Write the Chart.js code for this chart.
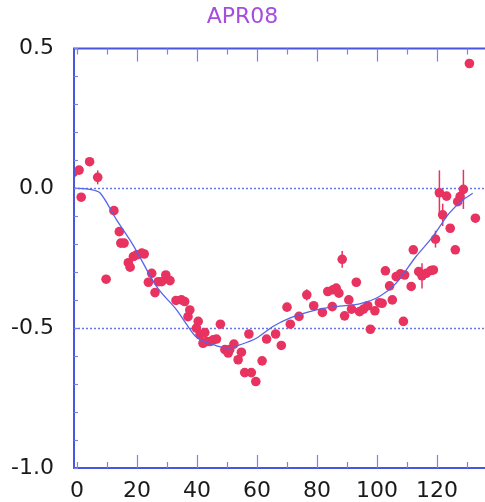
<!DOCTYPE html>
<html>
<head>
<meta charset="utf-8">
<script src="https://cdn.jsdelivr.net/npm/chart.js@4"></script>
<style>
  html, body { margin: 0; padding: 0; background: #fff; }
  #wrap { width: 485px; height: 502px; }
</style>
</head>
<body>
<div id="wrap"><canvas id="chart" width="485" height="502"></canvas></div>
<script>
const title = "APR08";

const xValues = [
  -1.2, 0.7, 1.4, 4.2, 6.9, 9.7, 12.3, 14.1, 14.6, 15.7, 17.1, 17.7, 18.8, 19.9,
  21.6, 22.4, 23.8, 24.9, 26.0, 27.1, 28.2, 29.6, 31.0, 33.0, 34.8, 35.9, 37.0,
  37.6, 39.8, 40.4, 41.0, 42.0, 42.6, 43.2, 44.3, 45.4, 46.5, 47.8, 49.3, 50.4,
  50.9, 52.3, 53.7, 54.8, 55.9, 57.3, 58.1, 59.6, 61.7, 63.2, 66.2, 68.1, 70.0,
  71.1, 74.0, 76.6, 78.9, 81.8, 83.6, 85.1, 85.3, 86.4, 87.3, 88.4, 89.2, 90.6,
  91.5, 93.1, 94.2, 95.5, 96.9, 97.8, 99.3, 100.8, 101.7, 102.8, 104.2, 105.1,
  106.4, 107.8, 108.8, 109.2, 111.4, 112.1, 113.9, 115.0, 116.4, 118.0, 118.8,
  119.5, 120.8, 121.9, 123.2, 124.4, 126.1, 126.9, 127.7, 128.8, 130.8, 132.8
];
const yValues = [
  0.057, 0.065, -0.032, 0.095, 0.039, -0.325, -0.080, -0.155, -0.196, -0.196, -0.266, -0.282, -0.244, -0.238,
  -0.232, -0.235, -0.336, -0.304, -0.373, -0.334, -0.334, -0.310, -0.330, -0.401, -0.399, -0.405, -0.459,
  -0.435, -0.500, -0.476, -0.524, -0.554, -0.516, -0.548, -0.548, -0.542, -0.539, -0.486, -0.577, -0.589,
  -0.577, -0.557, -0.613, -0.586, -0.659, -0.521, -0.659, -0.691, -0.617, -0.539, -0.521, -0.562, -0.425,
  -0.486, -0.458, -0.381, -0.420, -0.444, -0.369, -0.423, -0.363, -0.357, -0.375, -0.254, -0.456, -0.399,
  -0.432, -0.336, -0.441, -0.432, -0.420, -0.504, -0.438, -0.409, -0.411, -0.295, -0.349, -0.399,
  -0.316, -0.306, -0.476, -0.310, -0.351, -0.220, -0.298, -0.313, -0.304, -0.294, -0.292,
  -0.182, -0.016, -0.095, -0.028, -0.143, -0.220, -0.048, -0.030, -0.004, 0.446, -0.107
];
// error bar half-lengths, keyed by x value
const errX = [6.9, 76.6, 88.4, 115.0, 119.5, 120.8, 121.9, 128.8];
const errSize = [0.025, 0.02, 0.03, 0.045, 0.03, 0.08, 0.04, 0.07];

const fitX = [-1, 3, 6, 7.7, 13.2, 18.7, 26.5, 33.2, 37.0, 39.8, 46.5, 50.9, 54.2, 59.8,
  65.3, 70.9, 79.8, 86.4, 94.2, 100.8, 106.4, 113.0, 118.6, 124.1, 128.6, 131.9];
const fitY = [0, -0.002, -0.008, -0.017, -0.113, -0.203, -0.351, -0.435, -0.494, -0.532, -0.563, -0.571, -0.560, -0.536,
  -0.494, -0.464, -0.435, -0.423, -0.413, -0.387, -0.339, -0.244, -0.173, -0.089, -0.042, -0.018];

const xTicks = [0, 20, 40, 60, 80, 100, 120];
const yTicks = [-1.0, -0.5, 0.0, 0.5];
const refLines = [0, -0.5];

const pointColor = "#e8325f";
const axisColor = "#4a55e0";

const decorations = {
  id: "decorations",
  beforeDatasetsDraw(chart) {
    const { ctx, chartArea: a, scales: { x, y } } = chart;
    ctx.save();
    ctx.strokeStyle = "#6677ee";
    ctx.lineWidth = 1.5;
    ctx.setLineDash([2, 2]);
    refLines.forEach((v) => {
      const py = Math.round(y.getPixelForValue(v)) + 0.5;
      ctx.beginPath();
      ctx.moveTo(a.left, py);
      ctx.lineTo(a.right, py);
      ctx.stroke();
    });
    ctx.setLineDash([]);
    ctx.strokeStyle = pointColor;
    ctx.lineWidth = 1.5;
    errX.forEach((ex, i) => {
      const idx = xValues.indexOf(ex);
      const px = x.getPixelForValue(ex);
      ctx.beginPath();
      ctx.moveTo(px, y.getPixelForValue(yValues[idx] + errSize[i]));
      ctx.lineTo(px, y.getPixelForValue(yValues[idx] - errSize[i]));
      ctx.stroke();
    });
    ctx.restore();
  },
  afterDraw(chart) {
    const { ctx, chartArea: a, scales: { x, y } } = chart;
    ctx.save();
    ctx.strokeStyle = axisColor;
    ctx.lineWidth = 2;
    ctx.beginPath();
    ctx.moveTo(a.right + 2, a.top);
    ctx.lineTo(a.left, a.top);
    ctx.lineTo(a.left, a.bottom);
    ctx.lineTo(a.right + 2, a.bottom);
    ctx.stroke();
    ctx.lineWidth = 1.2;
    ctx.strokeStyle = "#7783ee";
    for (let v = 0; v <= 130; v += 10) {
      const px = Math.round(x.getPixelForValue(v)) + 0.5;
      const len = v % 20 === 0 && v > 0 ? 13 : 6;
      ctx.beginPath();
      ctx.moveTo(px, a.top);
      ctx.lineTo(px, a.top + len);
      ctx.moveTo(px, a.bottom);
      ctx.lineTo(px, a.bottom - len);
      ctx.stroke();
    }
    for (let i = 0; i <= 15; i++) {
      const v = -1 + i * 0.1;
      const py = Math.round(y.getPixelForValue(v)) + 0.5;
      ctx.beginPath();
      ctx.moveTo(a.left, py);
      ctx.lineTo(a.left + 4, py);
      ctx.stroke();
    }
    ctx.restore();
  },
};

new Chart(document.querySelector("#chart").getContext("2d"), {
  data: {
    datasets: [
      {
        type: "line",
        label: "fit",
        data: fitX.map((v, i) => ({ x: v, y: fitY[i] })),
        borderColor: "#5565e8",
        borderWidth: 1.3,
        pointRadius: 0,
        cubicInterpolationMode: "monotone",
        order: 0,
      },
      {
        type: "scatter",
        label: "data",
        data: xValues.map((v, i) => ({ x: v, y: yValues[i] })),
        backgroundColor: pointColor,
        borderColor: pointColor,
        pointRadius: 4.8,
        pointBorderWidth: 0,
        order: 1,
      },
    ],
  },
  options: {
    responsive: false,
    animation: false,
    layout: { autoPadding: false, padding: { left: 0, right: 0, top: 0, bottom: 0 } },
    plugins: {
      legend: { display: false },
      tooltip: { enabled: false },
      title: {
        display: true,
        text: title,
        color: "#a64ddf",
        font: { family: "DejaVu Sans", size: 22, weight: "normal" },
        padding: { top: 4, bottom: 18 },
      },
    },
    scales: {
      x: {
        type: "linear",
        min: -1,
        max: 136,
        afterBuildTicks: (s) => { s.ticks = xTicks.map((v) => ({ value: v })); },
        afterFit: (s) => { s.height = 34; },
        grid: { display: false },
        border: { display: false },
        ticks: {
          color: "#1a1a1a",
          padding: 2,
          maxRotation: 0,
          font: { family: "DejaVu Sans", size: 22 },
        },
      },
      y: {
        type: "linear",
        min: -1,
        max: 0.5,
        afterBuildTicks: (s) => { s.ticks = yTicks.map((v) => ({ value: v })); },
        afterFit: (s) => { s.width = 74; },
        grid: { display: false },
        border: { display: false },
        ticks: {
          color: "#1a1a1a",
          padding: 12,
          font: { family: "DejaVu Sans", size: 22 },
          callback: (v) => Number(v).toFixed(1),
        },
      },
    },
  },
  plugins: [decorations],
});
</script>
</body>
</html>
